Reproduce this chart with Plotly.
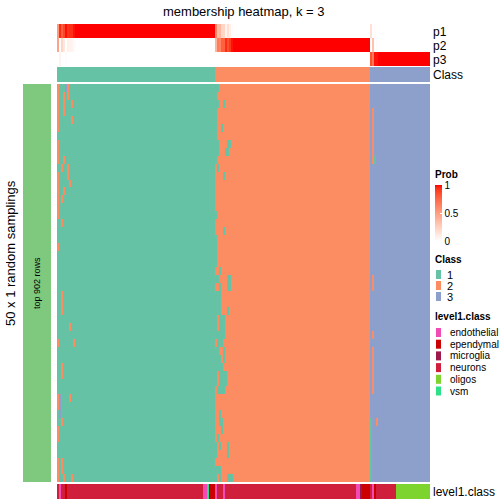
import numpy as np
import plotly.graph_objects as go

# ---------------- data ----------------
N_ROWS = 50
consensus_runs = [(1, 79), (2, 78), (3, 30)]          # consensus class per column (run-length)
class_labels = ["1", "2", "3"]
class_colors = ["#66C2A5", "#FC8D62", "#8DA0CB"]

# per-sampling deviations from the consensus: row -> [(first_col, last_col, class)]
deviations = {
    0: [(0, 0, 2), (4, 4, 3), (5, 5, 2), (79, 80, 1)],
    1: [(0, 0, 2), (3, 3, 2), (5, 5, 2), (79, 79, 1)],
    2: [(0, 0, 2), (3, 3, 2), (7, 7, 2), (79, 80, 1), (83, 83, 1)],
    3: [(0, 0, 2), (3, 3, 2), (79, 79, 1), (158, 158, 2)],
    4: [(0, 0, 2), (7, 7, 2), (79, 79, 1), (158, 158, 2)],
    5: [(0, 0, 2), (79, 79, 1), (82, 82, 1), (158, 158, 2)],
    6: [(79, 79, 1), (158, 158, 2)],
    7: [(0, 0, 2), (79, 80, 1), (85, 86, 1), (158, 158, 2)],
    8: [(0, 0, 2), (79, 80, 1), (84, 85, 1), (158, 158, 2)],
    9: [(0, 0, 2), (3, 3, 2), (79, 79, 1), (158, 158, 2), (159, 159, 1)],
    10: [(2, 2, 2), (5, 5, 2), (80, 80, 1)],
    11: [(0, 0, 2), (5, 5, 2), (83, 83, 1)],
    12: [(0, 0, 2), (6, 6, 2)],
    13: [(0, 0, 2), (3, 3, 2)],
    14: [(0, 0, 2), (2, 2, 2)],
    15: [(0, 0, 2)],
    16: [(0, 0, 2), (79, 79, 1)],
    17: [(2, 2, 2)],
    18: [(83, 83, 1)],
    19: [(79, 79, 1)],
    20: [(0, 0, 2), (79, 79, 1)],
    21: [(79, 79, 1)],
    22: [(79, 79, 1)],
    23: [(81, 81, 1)],
    24: [(79, 80, 1), (85, 86, 1), (158, 158, 2)],
    25: [(81, 81, 1), (85, 86, 1), (158, 158, 2)],
    26: [(2, 2, 2), (79, 81, 1)],
    27: [(2, 2, 2), (79, 81, 1)],
    28: [(2, 2, 2), (79, 81, 1), (85, 85, 1)],
    29: [(79, 79, 1), (81, 83, 1)],
    30: [(6, 6, 2), (79, 79, 1), (81, 83, 1)],
    31: [(79, 83, 1), (158, 158, 2)],
    32: [(0, 0, 2), (8, 8, 2), (80, 82, 1)],
    33: [(79, 80, 1), (83, 83, 1), (158, 158, 2)],
    34: [(79, 81, 1), (83, 83, 1), (158, 158, 2)],
    35: [(2, 2, 2), (79, 82, 1), (158, 158, 2)],
    36: [(2, 2, 2), (79, 79, 1), (81, 84, 1), (158, 158, 2)],
    37: [(79, 79, 1), (81, 84, 1), (158, 158, 2)],
    38: [(80, 83, 1), (158, 158, 2)],
    39: [(0, 0, 2), (1, 1, 3), (6, 6, 2)],
    40: [(0, 0, 2), (1, 1, 3)],
    41: [(1, 1, 3), (81, 81, 1)],
    42: [(2, 2, 2), (81, 82, 1), (157, 157, 1), (160, 160, 2)],
    43: [(0, 0, 2), (82, 82, 1), (157, 157, 1)],
    44: [(0, 0, 2), (80, 80, 1), (157, 157, 1)],
    45: [(79, 79, 1), (81, 81, 1), (85, 85, 1), (157, 157, 1)],
    46: [(79, 79, 1), (85, 85, 1), (157, 157, 1)],
    47: [(0, 0, 2), (2, 2, 2), (157, 157, 1)],
    48: [(0, 0, 2), (2, 2, 2), (79, 81, 1), (157, 157, 1)],
    49: [(0, 0, 2), (3, 3, 2), (7, 7, 2), (79, 79, 1), (81, 81, 1), (85, 87, 1), (157, 157, 1)],
}

level1_labels = ["endothelial", "ependymal", "microglia", "neurons", "oligos", "vsm"]
level1_colors = ["#F24BB6", "#CC0000", "#9C1A4B", "#D01F3C", "#7ED42E", "#2EE087"]
level1_runs = [
    ("neurons", 1), ("endothelial", 1), ("neurons", 2), ("ependymal", 1), ("neurons", 68),
    ("endothelial", 2), ("vsm", 1), ("ependymal", 3), ("endothelial", 1), ("neurons", 3),
    ("endothelial", 1), ("neurons", 66), ("endothelial", 2), ("microglia", 1), ("ependymal", 4),
    ("neurons", 1), ("endothelial", 1), ("ependymal", 1), ("neurons", 10), ("oligos", 17),
]

title_text = "membership heatmap, k = 3"
row_title = "50 x 1 random samplings"
slice_label = "top 902 rows"

# ---------------- build matrices ----------------
consensus = np.concatenate([np.full(n, c) for c, n in consensus_runs])
n_cols = consensus.size
mat = np.tile(consensus, (N_ROWS, 1)).astype(float)
for r, devs in deviations.items():
    for a, b, c in devs:
        mat[r, a:b + 1] = c
probs = np.array([(mat == k).mean(axis=0) for k in (1, 2, 3)])
lvl_seq = [lab for lab, n in level1_runs for _ in range(n)]
lvl_codes = np.array([level1_labels.index(l) for l in lvl_seq])

# ---------------- colour helpers ----------------
def srgb_to_lin(c):
    c = c / 255.0
    return np.where(c <= 0.04045, c / 12.92, ((c + 0.055) / 1.055) ** 2.4)

def lin_to_srgb(c):
    c = np.clip(c, 0, 1)
    return np.where(c <= 0.0031308, 12.92 * c, 1.055 * c ** (1 / 2.4) - 0.055) * 255

M = np.array([[0.4124, 0.3576, 0.1805], [0.2126, 0.7152, 0.0722], [0.0193, 0.1192, 0.9505]])
Minv = np.linalg.inv(M)
WP = np.array([0.95047, 1.0, 1.08883])

def to_lab(rgb):
    xyz = M @ srgb_to_lin(np.array(rgb, float)) / WP
    f = np.where(xyz > 0.008856, np.cbrt(xyz), 7.787 * xyz + 16 / 116)
    return np.array([116 * f[1] - 16, 500 * (f[0] - f[1]), 200 * (f[1] - f[2])])

def from_lab(lab):
    fy = (lab[0] + 16) / 116
    fx = fy + lab[1] / 500
    fz = fy - lab[2] / 200
    f = np.array([fx, fy, fz])
    xyz = np.where(f ** 3 > 0.008856, f ** 3, (f - 16 / 116) / 7.787) * WP
    rgb = lin_to_srgb(Minv @ xyz)
    return "rgb(%d,%d,%d)" % tuple(np.round(rgb).astype(int))

lab_w, lab_r = to_lab([255, 255, 255]), to_lab([255, 0, 0])
prob_cs = [[t, from_lab(lab_w + (lab_r - lab_w) * t)] for t in np.linspace(0, 1, 21)]

def discrete_cs(colors):
    n = len(colors)
    cs = []
    for i, c in enumerate(colors):
        cs.append([i / n, c])
        cs.append([(i + 1) / n, c])
    return cs

# ---------------- figure ----------------
W = H = 504
def fx(p): return p / W
def fy(p): return 1 - p / H

X0, X1 = 57, 430
cols = np.arange(n_cols)
fig = go.Figure()

fig.add_trace(go.Heatmap(z=mat, x=cols, y=np.arange(N_ROWS), colorscale=discrete_cs(class_colors),
                         zmin=0.5, zmax=3.5, showscale=False, xaxis="x", yaxis="y", hoverinfo="skip"))
fig.add_trace(go.Heatmap(z=probs, x=cols, y=[0, 1, 2], colorscale=prob_cs, zmin=0, zmax=1,
                         xaxis="x2", yaxis="y2", hoverinfo="skip", showscale=True,
                         colorbar=dict(x=fx(435), xanchor="left", y=fy(185), yanchor="top",
                                       len=56, lenmode="pixels", thickness=7, thicknessmode="pixels",
                                       xpad=0, ypad=0, outlinewidth=0, tickvals=[0, 0.5, 1],
                                       ticktext=["0", "0.5", "1"], ticks="inside", ticklen=2,
                                       tickcolor="white", tickfont=dict(size=10, color="black",
                                       family="Liberation Sans, Arial"))))
fig.add_trace(go.Heatmap(z=[consensus], x=cols, y=[0], colorscale=discrete_cs(class_colors),
                         zmin=0.5, zmax=3.5, showscale=False, xaxis="x3", yaxis="y3", hoverinfo="skip"))
fig.add_trace(go.Heatmap(z=[lvl_codes], x=cols, y=[0], colorscale=discrete_cs(level1_colors),
                         zmin=-0.5, zmax=len(level1_labels) - 0.5, showscale=False,
                         xaxis="x4", yaxis="y4", hoverinfo="skip"))

xr = [-0.5, n_cols - 0.5]
ax = dict(visible=False, fixedrange=True)
fig.update_layout(
    width=W, height=H, margin=dict(l=0, r=0, t=0, b=0),
    paper_bgcolor="white", plot_bgcolor="white", showlegend=False,
    xaxis=dict(domain=[fx(X0), fx(X1)], range=xr, **ax),
    yaxis=dict(domain=[fy(482), fy(84)], range=[N_ROWS - 0.5, -0.5], **ax),
    xaxis2=dict(domain=[fx(X0), fx(X1)], range=xr, anchor="y2", **ax),
    yaxis2=dict(domain=[fy(66), fy(24)], range=[2.5, -0.5], anchor="x2", **ax),
    xaxis3=dict(domain=[fx(X0), fx(X1)], range=xr, anchor="y3", **ax),
    yaxis3=dict(domain=[fy(82), fy(67)], range=[-0.5, 0.5], anchor="x3", **ax),
    xaxis4=dict(domain=[fx(X0), fx(X1)], range=xr, anchor="y4", **ax),
    yaxis4=dict(domain=[fy(499), fy(484)], range=[-0.5, 0.5], anchor="x4", **ax),
)

FONT = "Liberation Sans, Arial, Helvetica, sans-serif"
shapes = [dict(type="rect", xref="paper", yref="paper", x0=fx(23), x1=fx(51), y0=fy(482), y1=fy(84),
               fillcolor="#7FC97F", line=dict(width=0), layer="below")]
ann = []

def text(x, y, s, size, xanchor="left", bold=False, angle=0):
    ann.append(dict(x=fx(x), y=fy(y), xref="paper", yref="paper", text=("<b>%s</b>" % s) if bold else s,
                    showarrow=False, xanchor=xanchor, yanchor="middle", textangle=angle,
                    font=dict(family=FONT, size=size, color="black"), borderpad=0))

text(243.5, 11, title_text, 13, xanchor="center")
for i, lab in enumerate(["p1", "p2", "p3"]):
    text(432, 32 + 14 * i, lab, 12)
text(432, 75, "Class", 12)
text(432, 491.5, "level1.class", 12)
text(10, 253, row_title, 13, xanchor="center", angle=-90)
text(37, 283, slice_label, 9, xanchor="center", angle=-90)

# legends
text(434, 174, "Prob", 10, bold=True)
text(434, 259, "Class", 10, bold=True)
for i, (lab, col) in enumerate(zip(class_labels, class_colors)):
    y0 = 270 + 11 * i
    shapes.append(dict(type="rect", xref="paper", yref="paper", x0=fx(436), x1=fx(441), y0=fy(y0 + 9),
                       y1=fy(y0), fillcolor=col, line=dict(width=0)))
    text(446, y0 + 4.5, lab, 11)
text(434, 316, "level1.class", 10, bold=True)
for i, (lab, col) in enumerate(zip(level1_labels, level1_colors)):
    y0 = 328 + 11.7 * i
    shapes.append(dict(type="rect", xref="paper", yref="paper", x0=fx(436), x1=fx(441), y0=fy(y0 + 9),
                       y1=fy(y0), fillcolor=col, line=dict(width=0)))
    text(449, y0 + 4.5, lab, 10)

fig.update_layout(shapes=shapes, annotations=ann)
fig.write_html("out.html", config={"displayModeBar": False},
               post_script="document.body.style.margin='0';document.body.style.overflow='hidden';")
